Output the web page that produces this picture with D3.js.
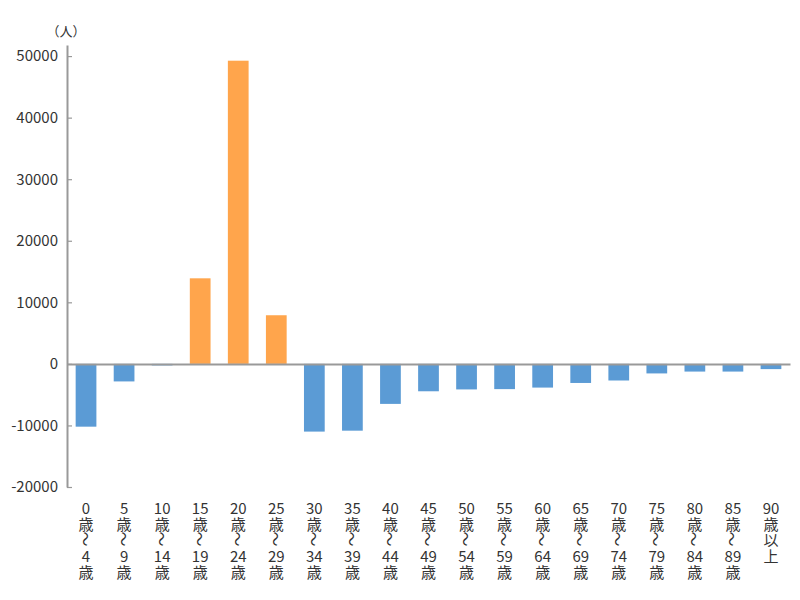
<!DOCTYPE html>
<html>
<head>
<meta charset="utf-8">
<script src="https://cdn.jsdelivr.net/npm/d3@7"></script>
<style>
  html, body { margin: 0; padding: 0; background: #fff; }
  svg { display: block; }
</style>
</head>
<body>
<svg id="chart" width="800" height="600"></svg>
<script>
// ---- data ----
const categories = ["0歳〜4歳","5歳〜9歳","10歳〜14歳","15歳〜19歳","20歳〜24歳","25歳〜29歳",
  "30歳〜34歳","35歳〜39歳","40歳〜44歳","45歳〜49歳","50歳〜54歳","55歳〜59歳",
  "60歳〜64歳","65歳〜69歳","70歳〜74歳","75歳〜79歳","80歳〜84歳","85歳〜89歳","90歳以上"];
const values = [-10200, -2850, -250, 13900, 49250, 7900, -11000, -10850, -6500, -4450,
  -4150, -4100, -3850, -3100, -2700, -1550, -1250, -1250, -850];
const yTicks = [-20000, -10000, 0, 10000, 20000, 30000, 40000, 50000];
const unitLabel = "（人）";

// ---- layout ----
const svg = d3.select("#chart");
const font = "'Noto Sans CJK JP', 'Noto Sans', sans-serif";
const textColor = "#333";
const axisColor = "#999";

const x = d3.scaleBand().domain(categories).range([67, 790]).paddingInner(0.455).paddingOuter(0.2275);
const y = d3.scaleLinear().domain([-20000, 51800]).range([487, 45]);

// bars
svg.append("g").selectAll("rect").data(values).join("rect")
  .attr("x", (d, i) => x(categories[i]))
  .attr("width", x.bandwidth())
  .attr("y", d => y(Math.max(0, d)))
  .attr("height", d => Math.abs(y(d) - y(0)))
  .attr("fill", d => d >= 0 ? "#FFA54C" : "#5B9BD5");

// y axis
const yAxis = svg.append("g").attr("transform", "translate(67,0)")
  .call(d3.axisLeft(y).tickValues(yTicks).tickSizeInner(-5).tickSizeOuter(0).tickPadding(9).tickFormat(d => String(d)));
yAxis.select(".domain").attr("stroke", axisColor).attr("stroke-width", 2);
yAxis.selectAll(".tick line").attr("stroke", axisColor).attr("stroke-width", 1.2);
yAxis.selectAll(".tick text").attr("font-family", font).attr("font-size", 15).attr("fill", textColor);

// zero baseline
const xAxis = svg.append("g").attr("transform", `translate(0,${y(0)})`)
  .call(d3.axisBottom(x).tickSize(0).tickSizeOuter(0).tickFormat(""));
xAxis.select(".domain").attr("stroke", axisColor).attr("stroke-width", 2);
xAxis.selectAll(".tick").remove();

// category labels (vertical stacked)
const labAxis = svg.append("g").attr("transform", "translate(0,487)")
  .call(d3.axisBottom(x).tickSize(0).tickFormat(""));
labAxis.select(".domain").remove();
labAxis.selectAll(".tick").each(function(cat) {
  const g = d3.select(this);
  g.selectAll("text").remove();
  const parts = cat.match(/\d+|./g);
  parts.forEach((p, j) => {
    const cy = 20 + j * 16;
    const t = g.append("text")
      .attr("font-family", font).attr("font-size", 15).attr("fill", textColor)
      .attr("text-anchor", "middle").attr("dominant-baseline", "central")
      .text(p);
    if (p === "〜") {
      t.attr("transform", `translate(0,${cy}) rotate(90)`);
    } else {
      t.attr("y", cy);
    }
  });
});

// unit label
svg.append("text").attr("x", 66).attr("y", 30)
  .attr("text-anchor", "middle").attr("dominant-baseline", "central")
  .attr("font-family", font).attr("font-size", 13).attr("fill", textColor)
  .text(unitLabel);
</script>
</body>
</html>
